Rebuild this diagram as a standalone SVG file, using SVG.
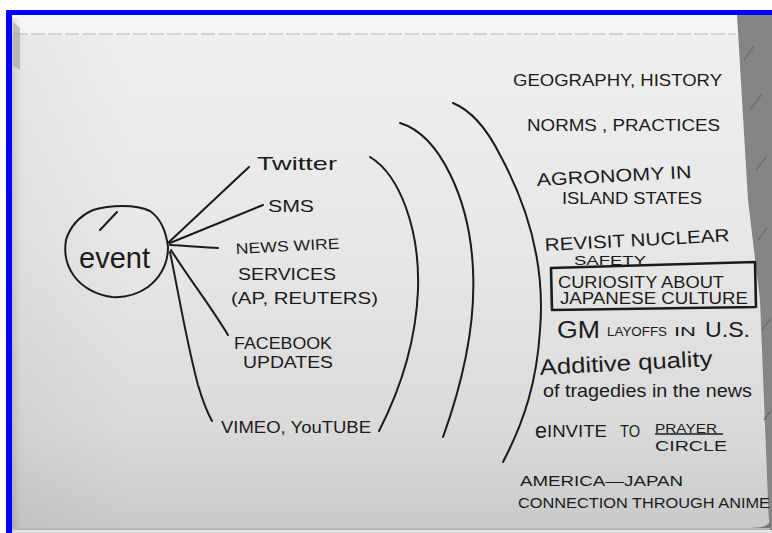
<svg xmlns="http://www.w3.org/2000/svg" width="772" height="533" viewBox="0 0 772 533">
<defs>
<linearGradient id="paper" x1="0" y1="0" x2="0" y2="1">
<stop offset="0" stop-color="#f0f0f0"/>
<stop offset="0.45" stop-color="#e7e7e7"/>
<stop offset="0.8" stop-color="#dadada"/>
<stop offset="1" stop-color="#c9c9c9"/>
</linearGradient>
<linearGradient id="side" x1="0" y1="0" x2="1" y2="0">
<stop offset="0" stop-color="#000" stop-opacity="0.10"/>
<stop offset="1" stop-color="#000" stop-opacity="0"/>
</linearGradient>
<linearGradient id="leftshade" x1="0" y1="0" x2="1" y2="0">
<stop offset="0" stop-color="#000" stop-opacity="0.04"/>
<stop offset="1" stop-color="#000" stop-opacity="0"/>
</linearGradient>
<style>
.ink{fill:none;stroke:#1b1b1b;stroke-width:2;stroke-linecap:round;stroke-linejoin:round}
.t{font-family:"Liberation Sans","DejaVu Sans",sans-serif;fill:#1b1b1b}
</style>
</defs>

<!-- background -->
<rect x="0" y="0" width="772" height="533" fill="#ffffff"/>
<rect x="12" y="15" width="760" height="514" fill="url(#paper)"/>
<rect x="12" y="15" width="120" height="514" fill="url(#leftshade)"/>
<rect x="12" y="15" width="726" height="20" fill="#f5f5f5"/>
<line x1="14" y1="34" x2="736" y2="34" stroke="#b0b0b0" stroke-width="1" stroke-dasharray="14 3"/>
<rect x="12" y="18" width="9" height="510" fill="url(#side)"/>
<path d="M13,22 L20,28 L20,70 L13,66 Z" fill="#9a9a9a" opacity="0.55"/>
<!-- desk at right -->
<path d="M737,15 L772,15 L772,533 L770,533 L770,526 C769,520 768,510 768,500 L760,300 L748,200 Z" fill="#858585"/>
<path d="M744,60 l10,-14 M750,110 l12,-16 M756,170 l10,-13 M758,240 l9,-12 M762,330 l8,-11 M764,420 l7,-10" stroke="#6e6e6e" stroke-width="1.5"/>
<rect x="12" y="528" width="758" height="2" fill="#b8b8b8"/>
<rect x="12" y="530" width="760" height="3" fill="#e2e2e2"/>
<path d="M620,528 L770,528 L770,522 C766,527 760,528 750,528" fill="#555" opacity="0.7"/>
<!-- blue frame -->
<rect x="6" y="10" width="766" height="5" fill="#0000ff"/>
<rect x="6" y="10" width="6" height="523" fill="#0000ff"/>

<!-- connectors -->
<g id="connectors" class="ink">
<path d="M168,243 L249,167"/>
<path d="M170,243 L263,205"/>
<path d="M170,245 C190,246 205,248 218,248"/>
<path d="M171,250 C190,280 210,305 228,335"/>
<path d="M170,252 C178,290 186,340 198,385 C203,402 207,412 212,421"/>
</g>

<!-- ripples -->
<g id="ripples" class="ink">
<path d="M370,157 C400,175 420,230 418,290 C416,340 400,390 379,431"/>
<path d="M400,123 C440,135 470,200 473,270 C476,330 460,390 443,437"/>
<path d="M453,103 C470,110 485,125 500,155 C530,210 545,270 540,330 C537,380 525,420 503,462"/>
</g>

<!-- nodes -->
<g id="event">
<path class="ink" d="M100,230 L117,212 M93,210 C110,205 135,204 150,211 C160,218 166,230 168,247 C168,262 162,276 148,287 C138,294 127,298 112,297 C96,295 82,287 74,276 C66,265 64,252 66,240 C70,227 80,216 93,210"/>
<text class="t" x="79" y="268" font-size="30" textLength="71" lengthAdjust="spacingAndGlyphs">event</text>
</g>
<g id="twitter"><text class="t" x="257" y="170" font-size="19" textLength="80" lengthAdjust="spacingAndGlyphs">Twitter</text></g>
<g id="sms"><text class="t" x="268" y="212" font-size="16" textLength="46" lengthAdjust="spacingAndGlyphs">SMS</text></g>
<g id="newswire">
<text class="t" x="236" y="254" font-size="15" textLength="104" lengthAdjust="spacingAndGlyphs" transform="rotate(-3 236 254)">NEWS WIRE</text>
<text class="t" x="238" y="280" font-size="16" textLength="98" lengthAdjust="spacingAndGlyphs">SERVICES</text>
<text class="t" x="231" y="304" font-size="17" textLength="147" lengthAdjust="spacingAndGlyphs">(AP, REUTERS)</text>
</g>
<g id="facebook">
<text class="t" x="234" y="349" font-size="16" textLength="98" lengthAdjust="spacingAndGlyphs">FACEBOOK</text>
<text class="t" x="243" y="368" font-size="16" textLength="90" lengthAdjust="spacingAndGlyphs">UPDATES</text>
</g>
<g id="vimeo"><text class="t" x="221" y="433" font-size="17" textLength="150" lengthAdjust="spacingAndGlyphs">VIMEO, YouTUBE</text></g>

<g id="geography"><text class="t" x="513" y="86" font-size="17" textLength="209" lengthAdjust="spacingAndGlyphs">GEOGRAPHY, HISTORY</text></g>
<g id="norms"><text class="t" x="527" y="131" font-size="17" textLength="193" lengthAdjust="spacingAndGlyphs">NORMS , PRACTICES</text></g>
<g id="agronomy">
<text class="t" x="537" y="186" font-size="18" textLength="155" lengthAdjust="spacingAndGlyphs" transform="rotate(-3 537 186)">AGRONOMY IN</text>
<text class="t" x="562" y="204" font-size="17" textLength="140" lengthAdjust="spacingAndGlyphs">ISLAND STATES</text>
</g>
<g id="nuclear">
<text class="t" x="545" y="251" font-size="18" textLength="185" lengthAdjust="spacingAndGlyphs" transform="rotate(-3 545 251)">REVISIT NUCLEAR</text>
<text class="t" x="574" y="265" font-size="13" textLength="72" lengthAdjust="spacingAndGlyphs">SAFETY</text>
</g>
<g id="curiosity">
<path d="M551,268 L652,265 L755,262 L756,307 L552,310 Z" fill="none" stroke="#1b1b1b" stroke-width="2.6" stroke-linejoin="round"/>
<text class="t" x="558" y="288" font-size="16" textLength="166" lengthAdjust="spacingAndGlyphs">CURIOSITY ABOUT</text>
<text class="t" x="560" y="304" font-size="16" textLength="188" lengthAdjust="spacingAndGlyphs">JAPANESE CULTURE</text>
</g>
<g id="gm">
<text class="t" x="557" y="338" font-size="23" textLength="43" lengthAdjust="spacingAndGlyphs">GM</text>
<text class="t" x="607" y="336" font-size="13" textLength="60" lengthAdjust="spacingAndGlyphs">LAYOFFS</text>
<text class="t" x="674" y="336" font-size="13" textLength="22" lengthAdjust="spacingAndGlyphs">IN</text>
<text class="t" x="705" y="337" font-size="22" textLength="45" lengthAdjust="spacingAndGlyphs">U.S.</text>
</g>
<g id="additive">
<text class="t" x="540" y="375" font-size="22" textLength="173" lengthAdjust="spacingAndGlyphs" transform="rotate(-3 540 375)">Additive quality</text>
<text class="t" x="543" y="397" font-size="19" textLength="209" lengthAdjust="spacingAndGlyphs">of tragedies in the news</text>
</g>
<g id="einvite">
<text class="t" x="535" y="438" font-size="22" textLength="12" lengthAdjust="spacingAndGlyphs">e</text>
<text class="t" x="547" y="437" font-size="16" textLength="60" lengthAdjust="spacingAndGlyphs">INVITE</text>
<text class="t" x="620" y="437" font-size="16" textLength="20" lengthAdjust="spacingAndGlyphs">TO</text>
<text class="t" x="655" y="433" font-size="13" textLength="62" lengthAdjust="spacingAndGlyphs">PRAYER</text>
<line x1="655" y1="434" x2="723" y2="434" stroke="#1b1b1b" stroke-width="1.6"/>
<text class="t" x="655" y="451" font-size="15" textLength="72" lengthAdjust="spacingAndGlyphs">CIRCLE</text>
</g>
<g id="america">
<text class="t" x="520" y="486" font-size="15" textLength="163" lengthAdjust="spacingAndGlyphs">AMERICA—JAPAN</text>
<text class="t" x="518" y="508" font-size="15" textLength="252" lengthAdjust="spacingAndGlyphs">CONNECTION THROUGH ANIME</text>
</g>
</svg>
